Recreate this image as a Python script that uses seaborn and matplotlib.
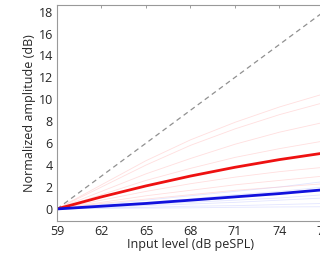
import numpy as np
import pandas as pd
import matplotlib
matplotlib.use("Agg")
import matplotlib.pyplot as plt
import seaborn as sns

levels = [59, 62, 65, 68, 71, 74, 77]

red_mean = [0, 1.1, 2.1, 3.0, 3.8, 4.5, 5.1]
blue_mean = [0, 0.25, 0.5, 0.8, 1.1, 1.4, 1.75]
identity = [0, 3, 6, 9, 12, 15, 18]

red_subjects = [
    [0, 2.2, 4.4, 6.3, 7.9, 9.3, 10.5],
    [0, 2.0, 4.0, 5.8, 7.3, 8.6, 9.7],
    [0, 1.6, 3.2, 4.6, 5.9, 7.0, 7.9],
    [0, 1.3, 2.6, 3.7, 4.7, 5.5, 6.2],
    [0, 0.8, 1.6, 2.3, 2.9, 3.4, 3.8],
    [0, 0.6, 1.2, 1.7, 2.2, 2.6, 3.0],
    [0, 0.5, 0.9, 1.3, 1.7, 2.0, 2.3],
]
blue_subjects = [
    [0, 0.4, 0.8, 1.2, 1.6, 2.0, 2.5],
    [0, 0.3, 0.6, 0.9, 1.3, 1.6, 2.0],
    [0, 0.2, 0.4, 0.6, 0.8, 1.0, 1.3],
    [0, 0.15, 0.3, 0.45, 0.6, 0.8, 1.0],
    [0, 0.1, 0.15, 0.25, 0.3, 0.4, 0.5],
    [0, 0.05, 0.08, 0.1, 0.15, 0.18, 0.2],
]

sns.set_style("white")
plt.rcParams['font.family'] = ['Open Sans', 'DejaVu Sans']

fig = plt.figure(figsize=(3.2, 2.57), dpi=100)
# axes extend slightly beyond the right edge (reference is cropped)
x0, x1 = 59, 77
left = 57 / 320
width = (x1 - x0) * 14.83 / 320
ax = fig.add_axes([left, (257 - 221) / 257, width, (221 - 5) / 257])

for s in blue_subjects:
    sns.lineplot(x=levels, y=s, ax=ax, color=(0.78, 0.80, 1.0), lw=0.6, alpha=0.5)
for s in red_subjects:
    sns.lineplot(x=levels, y=s, ax=ax, color=(1.0, 0.75, 0.75), lw=0.6, alpha=0.5)
sns.lineplot(x=levels, y=identity, ax=ax, color="#909090", lw=0.9, linestyle=(0, (4, 3)))
sns.lineplot(x=levels, y=red_mean, ax=ax, color="#ee1111", lw=2.0)
sns.lineplot(x=levels, y=blue_mean, ax=ax, color="#1111dd", lw=2.0)

ax.set_xlim(x0, x1)
ax.set_ylim(-1.1, 18.6)
ax.set_xticks(levels)
ax.set_yticks(range(0, 19, 2))
ax.tick_params(direction="in", length=2.5, width=0.5, color="#777777",
               labelsize=9, pad=3, top=True, right=True)
for sp in ax.spines.values():
    sp.set_color("#999999")
    sp.set_linewidth(0.8)
ax.set_xlabel("Input level (dB peSPL)", fontsize=9, labelpad=0)
ax.set_ylabel("Normalized amplitude (dB)", fontsize=9, labelpad=2)

fig.savefig("out.png", dpi=100)
